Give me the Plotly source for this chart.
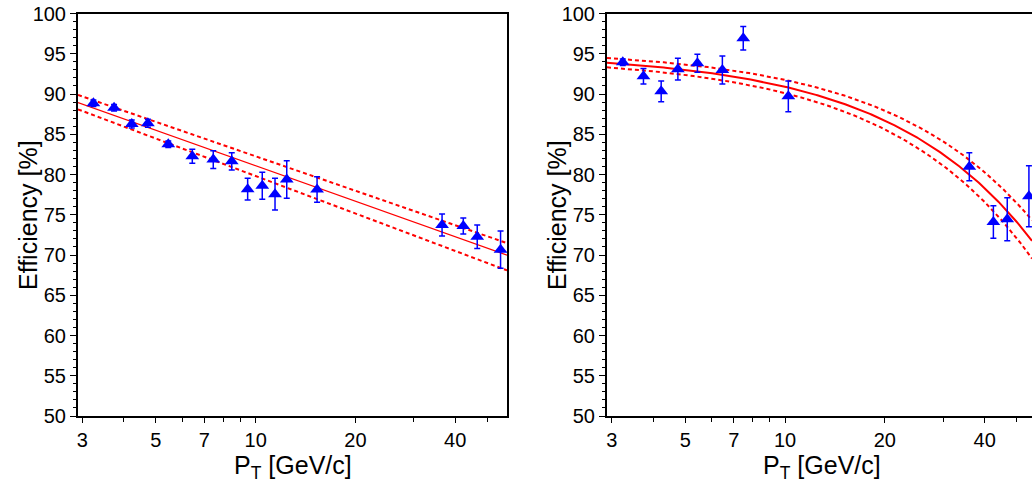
import numpy as np
import plotly.graph_objects as go

# ---------------- data ----------------
pt_left = [3.24, 3.74, 4.23, 4.73, 5.45, 6.44, 7.45, 8.47, 9.46, 10.47, 11.44, 12.41, 15.32, 36.5, 42.3, 46.6, 54.8]
eff_left = [88.85, 88.3, 86.27, 86.36, 83.75, 82.26, 81.86, 81.64, 78.17, 78.60, 77.56, 79.38, 78.14, 73.73, 73.6, 72.27, 70.66]
err_left = [0.4, 0.4, 0.5, 0.5, 0.4, 0.87, 1.1, 1.07, 1.35, 1.68, 1.97, 2.34, 1.59, 1.37, 1.0, 1.45, 2.32]

pt_right = [3.24, 3.74, 4.23, 4.75, 5.44, 6.47, 7.48, 10.23, 35.96, 42.5, 46.8, 54.4]
eff_right = [93.94, 92.21, 90.33, 93.08, 93.81, 92.98, 96.92, 89.71, 80.97, 74.10, 74.45, 77.30]
err_right = [0.4, 0.97, 1.28, 1.35, 1.12, 1.74, 1.45, 1.9, 1.74, 2.03, 2.67, 3.79]

# fit models (left: linear in log10(pT); right: linear in pT)
fit_left = {"center": (95.73, -14.64), "upper": (96.48, -14.22), "lower": (95.27, -15.46)}
fit_right = {"center": (95.10, -0.420), "upper": (95.58, -0.3825), "lower": (94.62, -0.4509)}

y_ticks = [50, 55, 60, 65, 70, 75, 80, 85, 90, 95, 100]
x_ticks = [3, 5, 7, 10, 20, 40]
x_minor = [4, 6, 8, 9, 30, 50]

# ---------------- figure ----------------
W, H = 1032, 487
FONT = "Liberation Sans, Arial, Helvetica, sans-serif"
RED = "#ff0000"
BLUE = "#0000ff"

xr_left = [0.4641, 1.7582]
xr_right = [0.4629, 1.7449]

fig = go.Figure()

def add_panel(xa, ya, pts, effs, errs, fit, xr, kind, solid_w):
    xs = np.logspace(xr[0], xr[1], 300)
    for key in ["upper", "lower", "center"]:
        a, b = fit[key]
        if kind == "log":
            ys = a + b * np.log10(xs)
        else:
            ys = a + b * xs
        fig.add_trace(go.Scatter(
            x=xs, y=ys, mode="lines", xaxis=xa, yaxis=ya, showlegend=False,
            line=dict(color=RED, width=solid_w if key == "center" else 2,
                      dash="solid" if key == "center" else "4px,3px"),
            hoverinfo="skip"))
    fig.add_trace(go.Scatter(
        x=pts, y=effs, mode="markers", xaxis=xa, yaxis=ya, showlegend=False,
        marker=dict(symbol="triangle-up", size=12, color=BLUE, line=dict(width=0)),
        error_y=dict(type="data", array=errs, visible=True, color=BLUE, thickness=1.5, width=3)))

add_panel("x", "y", pt_left, eff_left, err_left, fit_left, xr_left, "log", 1.2)
add_panel("x2", "y2", pt_right, eff_right, err_right, fit_right, xr_right, "lin", 2)

ydom = [1 - 416 / H, 1 - 13.5 / H]
common_x = dict(type="log", tickmode="array", tickvals=x_ticks, ticktext=[str(v) for v in x_ticks],
                ticks="outside", ticklen=5, tickwidth=1, tickcolor="black",
                minor=dict(tickvals=x_minor, ticks="outside", ticklen=4, tickwidth=1, tickcolor="black"),
                showline=True, linewidth=2, linecolor="black", mirror=True,
                showgrid=False, zeroline=False, automargin=False,
                tickfont=dict(family=FONT, size=20, color="black"))
common_y = dict(range=[50, 100], tickmode="array", tickvals=y_ticks,
                ticks="outside", ticklen=6, tickwidth=1, tickcolor="black",
                minor=dict(dtick=1, ticks="outside", ticklen=3, tickwidth=1, tickcolor="black"),
                showline=True, linewidth=2, linecolor="black",
                showgrid=False, zeroline=False, automargin=False,
                tickfont=dict(family=FONT, size=20, color="black"))

fig.update_layout(
    width=W, height=H,
    margin=dict(l=0, r=0, t=0, b=0),
    paper_bgcolor="white", plot_bgcolor="white",
    font=dict(family=FONT, color="black"),
    xaxis=dict(domain=[78 / W, 507 / W], range=xr_left, anchor="y", **common_x),
    yaxis=dict(domain=ydom, anchor="x", mirror=True, **common_y),
    xaxis2=dict(domain=[607 / W, 1.0], range=xr_right, anchor="y2", **common_x),
    yaxis2=dict(domain=ydom, anchor="x2", mirror=False, **common_y),
)

title_font = dict(family=FONT, size=25, color="black")
for xc in [(78 + 507) / 2 / W, (607 + 1036) / 2 / W]:
    fig.add_annotation(x=xc, y=1 - 467 / H, xref="paper", yref="paper",
                       text="P<sub>T</sub> [GeV/c]", showarrow=False, font=title_font,
                       xanchor="center", yanchor="middle")
for xc in [28 / W, 557 / W]:
    fig.add_annotation(x=xc, y=1 - 215 / H, xref="paper", yref="paper",
                       text="Efficiency [%]", showarrow=False, font=title_font, textangle=-90,
                       xanchor="center", yanchor="middle")

fig.write_html("out.html", config={"displayModeBar": False},
               post_script="document.body.style.margin='0px';document.body.style.overflow='hidden';")
